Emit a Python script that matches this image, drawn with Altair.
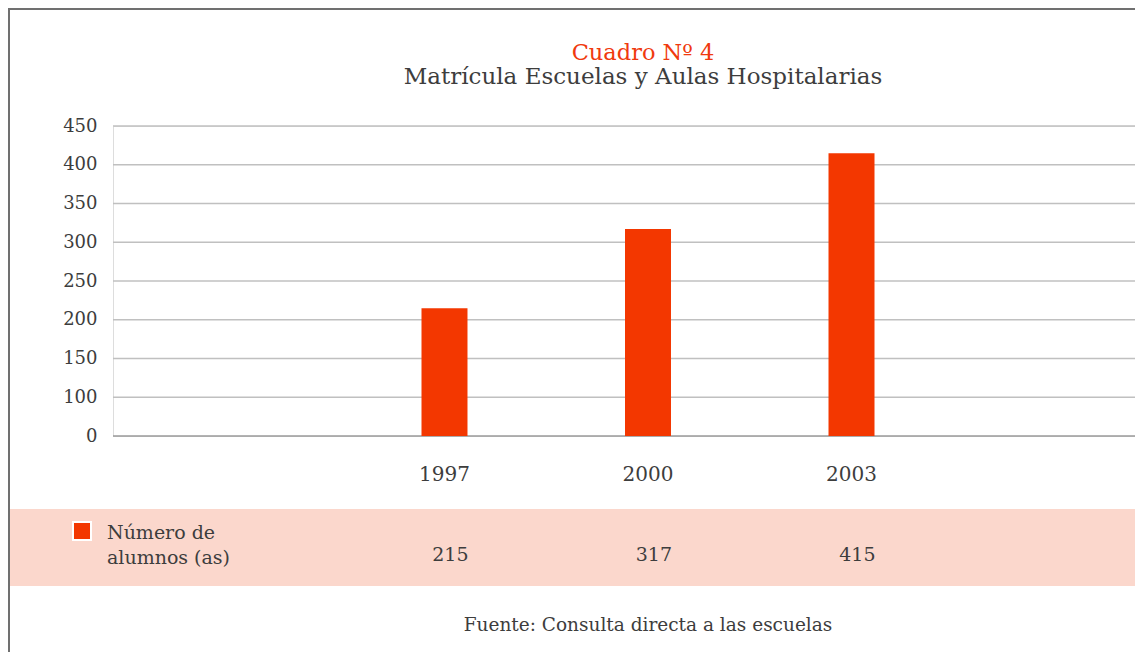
import altair as alt
import pandas as pd

# ---- data ----
years = ["1997", "2000", "2003"]
alumnos = [215, 317, 415]
y_ticks = [50, 100, 150, 200, 250, 300, 350, 400, 450]
axis_base = 50          # the chart's baseline (labelled "0" in the original)
series_name = ["Número de", "alumnos (as)"]
title_text = "Cuadro Nº 4"
subtitle_text = "Matrícula Escuelas y Aulas Hospitalarias"
source_text = "Fuente: Consulta directa a las escuelas"

FONT = "DejaVu Serif"
BAR = "#F33700"
TXT = "#3d3d3d"
W, H = 1022, 310

df = pd.DataFrame({"year": years, "alumnos": alumnos, "base": [axis_base] * len(years)})
grid_df = pd.DataFrame({"v": y_ticks, "is_base": [v == axis_base for v in y_ticks]})
one = pd.DataFrame({"k": [0]})

x_scale = alt.Scale(domain=years, paddingInner=0.774, paddingOuter=0,
                    range=[308.5, 761.5], round=False)
y_scale = alt.Scale(domain=[y_ticks[0], y_ticks[-1]], nice=False, zero=False)
y_axis = alt.Axis(title=None, values=y_ticks, ticks=False, domain=False, grid=False,
                  labelFont=FONT, labelFontSize=18, labelColor=TXT, labelPadding=16,
                  labelExpr="datum.value == 50 ? '0' : datum.label")

grid = alt.Chart(grid_df).mark_rule(strokeWidth=1.5).encode(
    y=alt.Y("v:Q", scale=y_scale, axis=y_axis),
    x=alt.value(0), x2=alt.value(W),
    color=alt.condition("datum.is_base", alt.value("#9a9a9a"), alt.value("#c0c0c0")),
)

bars = alt.Chart(df).mark_bar(color=BAR).encode(
    x=alt.X("year:N", scale=x_scale, sort=years,
            axis=alt.Axis(title=None, labelAngle=0, ticks=False, domain=False, grid=False,
                          labelFont=FONT, labelFontSize=20, labelColor=TXT,
                          labelPadding=28)),
    y=alt.Y("alumnos:Q", scale=y_scale, axis=y_axis),
    y2="base:Q",
)

band = alt.Chart(one).mark_rect(color="#FBD7CC").encode(
    x=alt.value(-104), x2=alt.value(W), y=alt.value(383), y2=alt.value(460)
)

frame_left = alt.Chart(one).mark_rect(color="#707070").encode(
    x=alt.value(-105), x2=alt.value(-103), y=alt.value(-118), y2=alt.value(H + 216)
)
frame_top = alt.Chart(one).mark_rect(color="#707070").encode(
    x=alt.value(-105), x2=alt.value(W), y=alt.value(-118), y2=alt.value(-116)
)

title1 = alt.Chart(one).mark_text(
    font=FONT, fontSize=22.5, color="#F03A0E", align="center", baseline="alphabetic"
).encode(x=alt.value(530), y=alt.value(-66), text=alt.value(title_text))
title2 = alt.Chart(one).mark_text(
    font=FONT, fontSize=23, color=TXT, align="center", baseline="alphabetic"
).encode(x=alt.value(530), y=alt.value(-42), text=alt.value(subtitle_text))

values_txt = alt.Chart(df).mark_text(
    font=FONT, fontSize=19, color=TXT, align="right", baseline="alphabetic", dx=24
).encode(x=alt.X("year:N", scale=x_scale, sort=years), y=alt.value(435), text="alumnos:Q")

legend_sq = alt.Chart(one).mark_square(
    size=324, fill=BAR, stroke="white", strokeWidth=2, opacity=1
).encode(x=alt.value(-31), y=alt.value(405))

legend_txt = alt.Chart(one).mark_text(
    font=FONT, fontSize=19, color=TXT, align="left", baseline="alphabetic", lineHeight=25
).encode(x=alt.value(-6), y=alt.value(413), text=alt.value(series_name))

source = alt.Chart(one).mark_text(
    font=FONT, fontSize=18.5, color=TXT, align="center", baseline="alphabetic"
).encode(x=alt.value(535), y=alt.value(505), text=alt.value(source_text))

chart = alt.layer(band, frame_left, frame_top, grid, bars, values_txt, legend_sq, legend_txt,
                  source, title1, title2).properties(
    width=W, height=H,
    autosize=alt.AutoSizeParams(type="none"),
    padding={"left": 105, "top": 118, "right": 0, "bottom": 216},
).configure_view(stroke="transparent", strokeWidth=0).configure(background="white")

chart.save("out.html", embed_options={"renderer": "svg", "actions": False})
